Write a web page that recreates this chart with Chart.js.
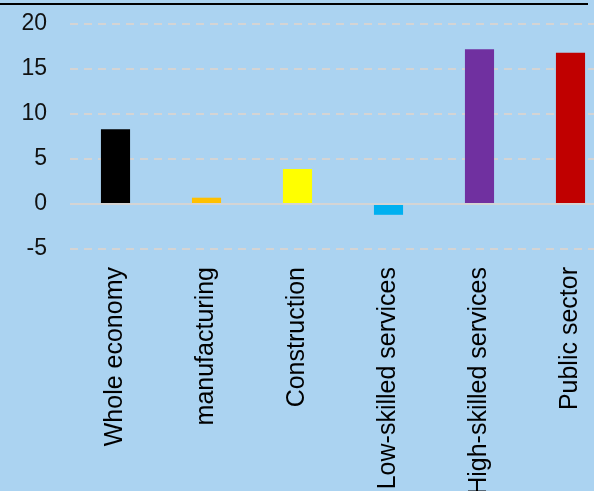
<!DOCTYPE html>
<html lang="en">
  <head>
    <meta charset="UTF-8" />
    <title>Change by sector</title>
    <script src="https://cdn.jsdelivr.net/npm/chart.js"></script>
    <style>
      body {
        margin: 0;
        padding: 0;
        background: #abd3f1;
        overflow: hidden;
      }
      .wrap {
        position: relative;
        width: 620px;
        height: 491px;
      }
      .topline {
        position: absolute;
        top: 3px;
        left: 0;
        width: 588px;
        height: 2px;
        background: #000;
      }
    </style>
  </head>
  <body>
    <div class="wrap">
      <canvas id="sectorChart" width="620" height="491"></canvas>
      <div class="topline"></div>
    </div>

    <script>
      const categories = [
        "Whole economy",
        "manufacturing",
        "Construction",
        "Low-skilled services",
        "High-skilled services",
        "Public sector",
      ];
      const values = [8.3, 0.7, 3.9, -1.2, 17.2, 16.8];
      const barColors = ["#000000", "#ffc000", "#ffff00", "#00b0f0", "#7030a0", "#c00000"];
      const yTicks = [-5, 0, 5, 10, 15, 20];

      const font = "'Liberation Sans', Arial, Helvetica, sans-serif";

      const ctx = document.getElementById("sectorChart").getContext("2d");
      new Chart(ctx, {
        type: "bar",
        data: {
          labels: categories,
          datasets: [
            {
              data: values,
              backgroundColor: barColors,
              borderWidth: 0,
              barPercentage: 0.32,
              categoryPercentage: 1,
            },
          ],
        },
        options: {
          responsive: false,
          animation: false,
          layout: { padding: { top: 6, right: 4, left: 0, bottom: 0 } },
          plugins: {
            legend: { display: false },
            tooltip: { enabled: false },
          },
          scales: {
            x: {
              grid: { display: false },
              border: { display: false },
              ticks: {
                autoSkip: false,
                minRotation: 90,
                maxRotation: 90,
                padding: 1,
                color: "#000",
                font: { family: font, size: 25 },
              },
              afterFit: (s) => {
                s.height = 233;
                s.paddingLeft = 0;
                s.paddingRight = 0;
              },
            },
            y: {
              min: -6,
              max: 22,
              afterBuildTicks: (s) => {
                s.ticks = yTicks.map((v) => ({ value: v }));
              },
              afterFit: (s) => {
                s.width = 70;
                s.paddingTop = 0;
                s.paddingBottom = 0;
              },
              grid: {
                drawTicks: false,
                color: "#d4d4d4",
                lineWidth: 2,
              },
              border: {
                display: false,
                dash: (c) => (c.tick && c.tick.value === 0 ? [] : [8, 6]),
              },
              ticks: {
                padding: 23,
                color: "#111",
                font: { family: font, size: 23 },
              },
            },
          },
        },
      });
    </script>
  </body>
</html>
